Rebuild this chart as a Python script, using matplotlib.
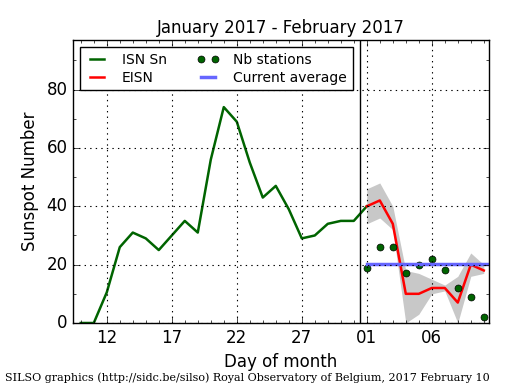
import matplotlib
matplotlib.use("Agg")
import matplotlib.pyplot as plt
from matplotlib.ticker import MultipleLocator

# === Data ===

# January days (continuous day index) and daily ISN
jan_days = list(range(10, 33))
isn_sn = [0, 0, 10.5, 26, 31, 29, 25, 30, 35, 31, 56, 74, 69, 55, 43, 47, 39, 29, 30, 34, 35, 35, 40]

# February days (day 32 = Feb 1)
feb_days = list(range(32, 42))
eisn = [40, 42, 34, 10, 10, 12, 12, 7, 20, 18]
eisn_upper = [46, 48, 40, 18, 17, 15, 13, 16, 24, 20]
eisn_lower = [34, 36, 32, 0, 3, 10, 11, 0, 16, 17]
nb_stations = [19, 26, 26, 17, 20, 22, 18, 12, 9, 2]
current_average = 20.3

tick_days = [12, 17, 22, 27, 32, 37]
tick_labels = ["12", "17", "22", "27", "01", "06"]

plt.style.use("classic")
plt.rcParams["figure.facecolor"] = "white"
plt.rcParams["savefig.facecolor"] = "white"

fig = plt.figure(figsize=(5.15, 3.9), dpi=100)
ax = fig.add_axes([0.1417, 0.1718, 0.8078, 0.7256])

# Uncertainty band and lines
ax.fill_between(feb_days, eisn_lower, eisn_upper, color="#c8c8c8", linewidth=0)
ax.plot(jan_days, isn_sn, color="darkgreen", lw=1.8, label="ISN Sn")
ax.plot(feb_days, eisn, color="red", lw=1.8, label="EISN")
ax.plot(feb_days, nb_stations, "o", color="darkgreen", ms=5, mec="black", mew=0.5,
        label="Nb stations")
ax.plot([feb_days[0], 42], [current_average, current_average], color="#6666ff", lw=2.5,
        label="Current average")
ax.axvline(31.5, color="black", lw=1)

ax.set_xlim(9.4, 41.4)
ax.set_ylim(0, 97)
ax.set_xticks(tick_days)
ax.set_xticklabels(tick_labels)
ax.xaxis.set_minor_locator(MultipleLocator(1))
ax.yaxis.set_major_locator(MultipleLocator(20))
ax.yaxis.set_minor_locator(MultipleLocator(10))
ax.tick_params(labelsize=12)
ax.grid(True, which="major", color="black", linestyle=":", lw=0.8)

ax.set_title("January 2017 - February 2017", fontsize=12)
ax.set_xlabel("Day of month", fontsize=12)
ax.set_ylabel("Sunspot Number", fontsize=12)

h, l = ax.get_legend_handles_labels()
ax.legend(h, l, loc="upper left", ncol=2, fontsize=10, numpoints=2,
          handlelength=1.6, handletextpad=1.0, borderpad=0.4, labelspacing=0.3,
          columnspacing=2.2)

fig.text(0.01, 0.022, "SILSO graphics (http://sidc.be/silso) Royal Observatory of Belgium, 2017 February 10",
         family="DejaVu Serif", fontsize=8)

fig.savefig("out.png", dpi=100)
